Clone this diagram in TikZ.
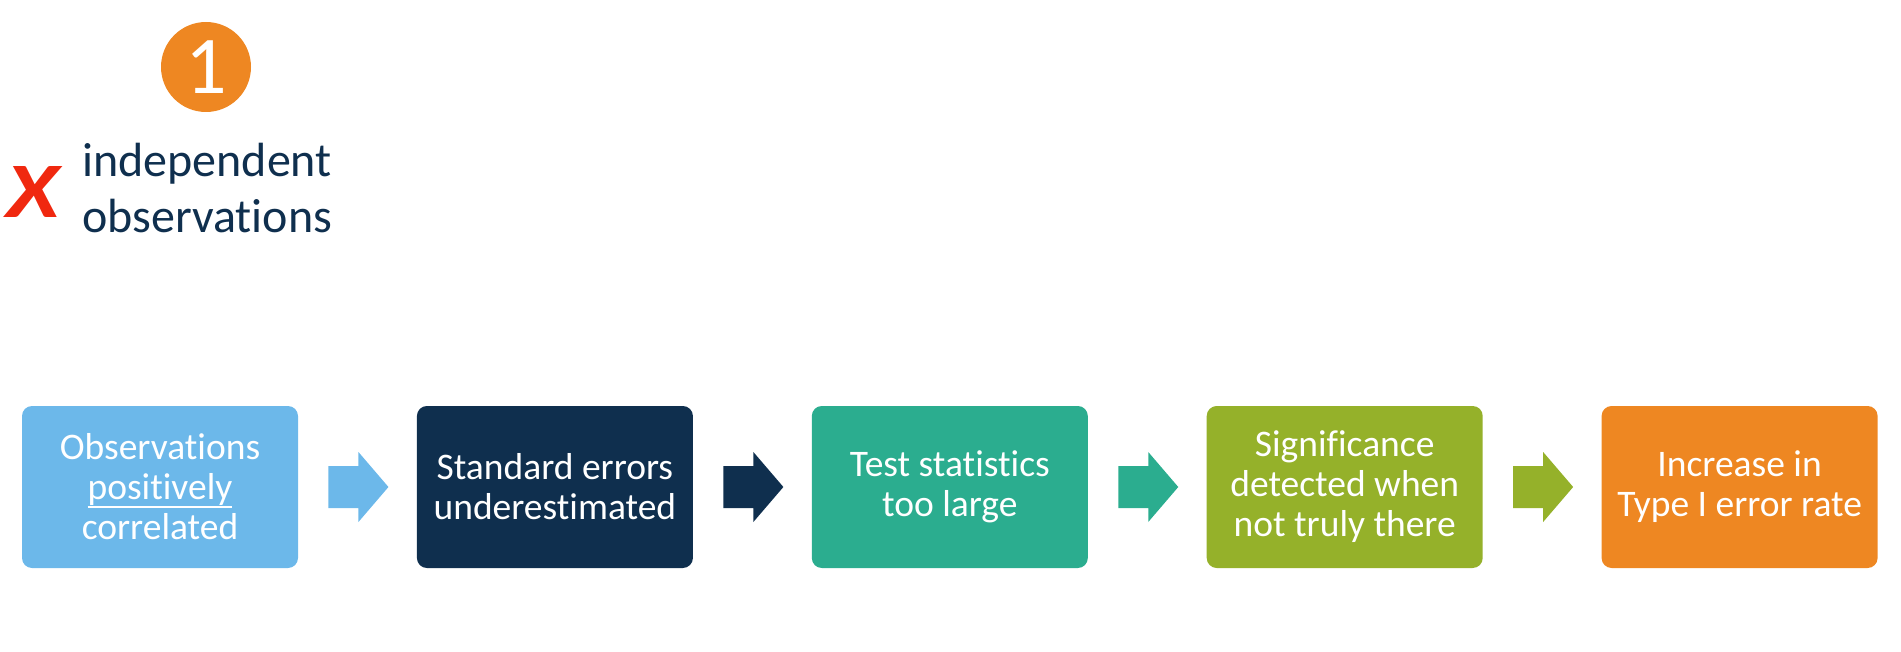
\documentclass[tikz,border=0pt]{standalone}
\usepackage{fontspec}
\setmainfont{Carlito}[Ligatures=NoCommon]
\usetikzlibrary{calc,positioning}
\definecolor{boxblue}{HTML}{6CB8EA}
\definecolor{boxnavy}{HTML}{0F2F4E}
\definecolor{boxteal}{HTML}{2BAD8F}
\definecolor{boxolive}{HTML}{95B12A}
\definecolor{boxorange}{HTML}{EE8722}
\definecolor{crossred}{HTML}{F0280F}
\tikzset{
	stepbox/.style={rounded corners=10pt, minimum width=276pt, minimum height=162pt, inner sep=0pt, align=center, text=white, font=\fontsize{37.5}{40}\selectfont},
}
\newcommand{\undl}[1]{\setbox0\hbox{#1}\rlap{\rule[-8pt]{\wd0}{2pt}}\box0}
\def\blockarrow[#1](#2)(#3){\fill[#1] ($(#2.east)!0.5!(#3.west)$) ++(-29,-21) -- ++(30,0) -- ++(0,-14) -- ++(30,35) -- ++(-30,35) -- ++(0,-14) -- ++(-30,0) -- cycle;}

\begin{document}
\begin{tikzpicture}[x=1pt,y=-1pt]
				%%%%% START %%%%%
				\def\gap{118.5pt}
				\useasboundingbox (0,0) rectangle (1901,652);
				
				\node[circle, fill=boxorange, minimum size=90pt, inner sep=0pt, text=white, font=\fontsize{82}{82}\selectfont] (one) at (206,67) {1};
				\node[text=crossred, inner sep=0pt] (cross) at (33,192) {\resizebox{53pt}{51pt}{\bfseries\itshape X}};
				\node[anchor=base west, align=left, inner sep=0pt, text=boxnavy, font=\fontsize{48}{56}\selectfont] (indep) at (82,233) {independent\\observations};
				
				\node[stepbox, fill=boxblue] (obs) at (160,487) {Observations\\\undl{positively}\\correlated};
				\node[stepbox, fill=boxnavy, right=\gap of obs] (se) {Standard errors\\underestimated};
				\node[stepbox, fill=boxteal, right=\gap of se] (stat) {Test statistics\\too large};
				\node[stepbox, fill=boxolive, right=\gap of stat] (sig) {Significance\\detected when\\not truly there};
				\node[stepbox, fill=boxorange, right=\gap of sig] (typeone) {Increase in\\Type I error rate};
				
				\blockarrow[boxblue](obs)(se);
				\blockarrow[boxnavy](se)(stat);
				\blockarrow[boxteal](stat)(sig);
				\blockarrow[boxolive](sig)(typeone);
				%%%%% END %%%%%
\end{tikzpicture}
\end{document}
